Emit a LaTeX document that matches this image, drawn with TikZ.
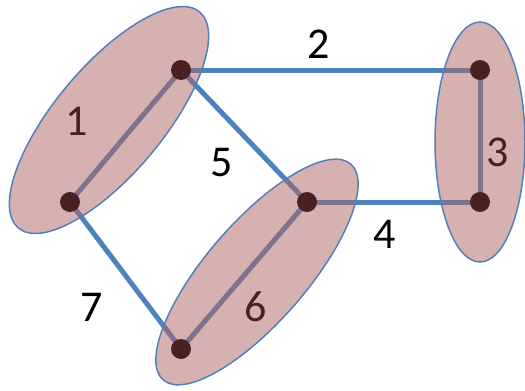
\documentclass[tikz,border=0pt]{standalone}
\usepackage{fontspec}
\setmainfont{Carlito}
\definecolor{edgeblue}{RGB}{79,129,189}
\definecolor{setfill}{RGB}{175,100,96}
\definecolor{dotbrown}{RGB}{74,32,32}
\tikzset{
  vtx/.style={circle,fill=dotbrown,inner sep=0pt,minimum size=20pt},
  edg/.style={draw=edgeblue,line width=5pt},
  setshape/.style={fill=setfill,fill opacity=0.5,draw=edgeblue,line width=1.5pt},
  lbl/.style={font=\fontsize{44}{44}\selectfont,text=black,inner sep=0pt},
  inlbl/.style={lbl,text=dotbrown}
}
\begin{document}
\begin{tikzpicture}[x=1pt,y=-1pt]
\useasboundingbox (0,0) rectangle (525,391);
% vertices (coordinates only first)
\coordinate (pA) at (181,70);
\coordinate (pB) at (70,202);
\coordinate (pC) at (480,70);
\coordinate (pD) at (480,202);
\coordinate (pE) at (307,202);
\coordinate (pF) at (181,349);
% edges
\draw[edg] (pA) -- (pC);
\draw[edg] (pC) -- (pD);
\draw[edg] (pE) -- (pD);
\draw[edg] (pA) -- (pE);
\draw[edg] (pB) -- (pF);
\draw[edg] (pA) -- (pB);
\draw[edg] (pE) -- (pF);
% sets
\path[setshape] (109,120) ellipse [x radius=141pt, y radius=54pt, rotate=50];
\path[setshape] (257,272) ellipse [x radius=143pt, y radius=50pt, rotate=49];
\path[setshape] (480,142) ellipse [x radius=45pt, y radius=120pt];
% vertex dots
\node[vtx] (A) at (pA) {};
\node[vtx] (B) at (pB) {};
\node[vtx] (C) at (pC) {};
\node[vtx] (D) at (pD) {};
\node[vtx] (E) at (pE) {};
\node[vtx] (F) at (pF) {};
% labels
\node[inlbl] (l1) at (77,121) {1};
\node[lbl] (l2) at (319,44) {2};
\node[inlbl] (l3) at (498,152) {3};
\node[lbl] (l4) at (385,234) {4};
\node[lbl] (l5) at (222,163) {5};
\node[inlbl] (l6) at (256,307) {6};
\node[lbl] (l7) at (92,307) {7};
\end{tikzpicture}
\end{document}
